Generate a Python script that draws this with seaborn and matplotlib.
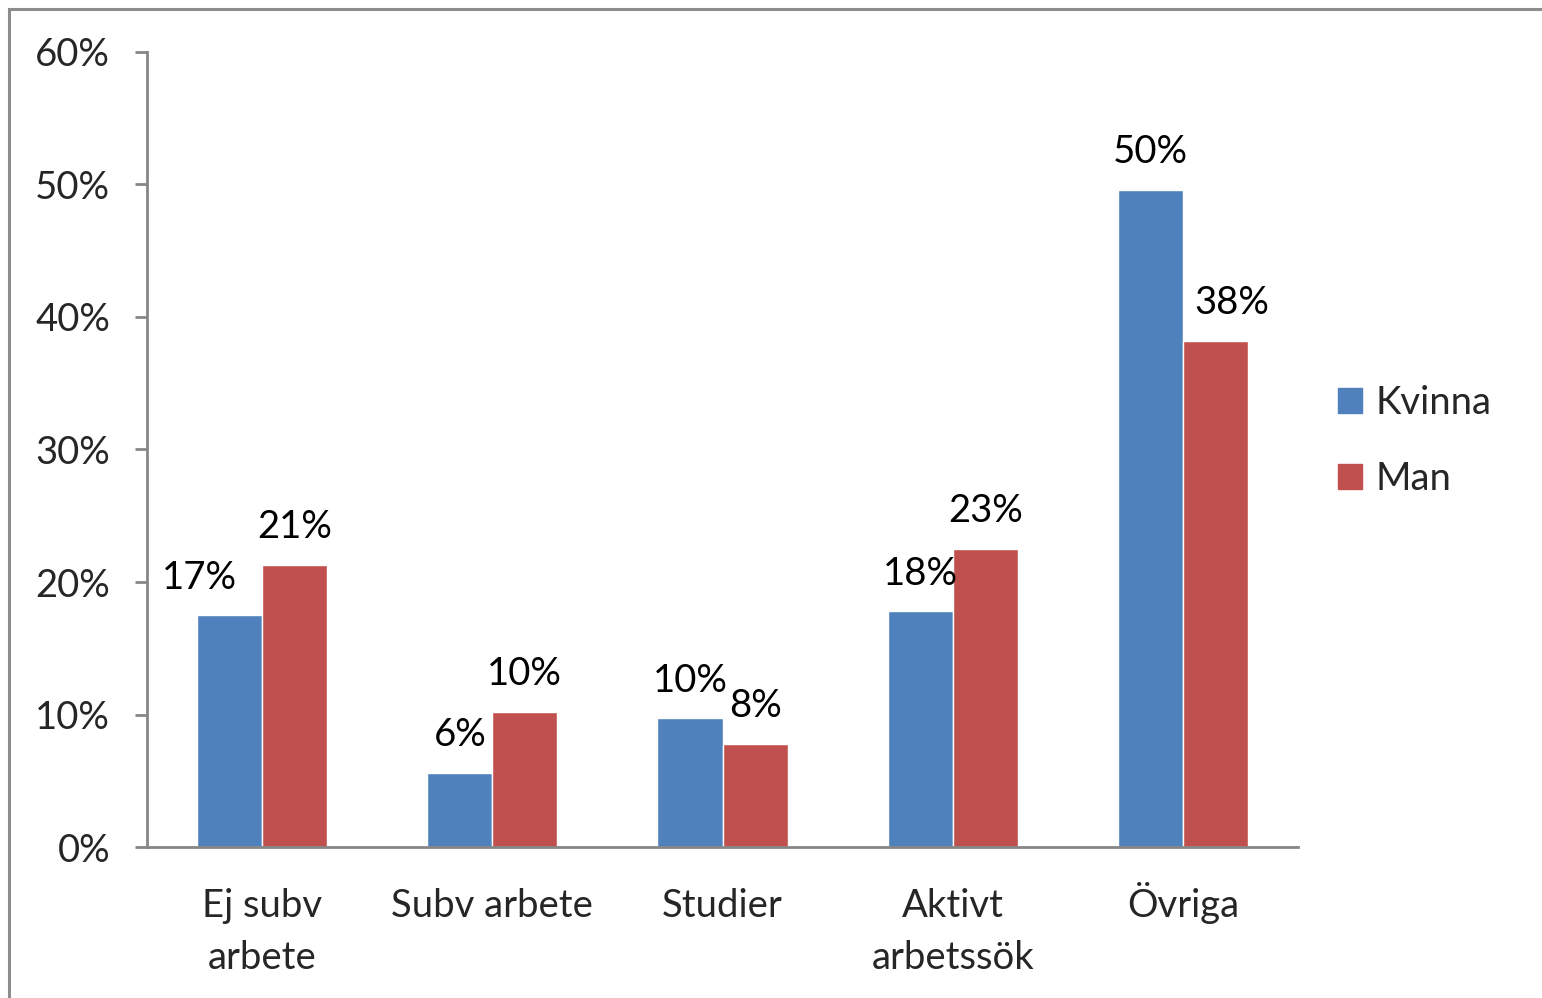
import matplotlib
matplotlib.use("Agg")
import matplotlib.pyplot as plt
import matplotlib.transforms as mtransforms
from matplotlib.patches import Rectangle
from matplotlib.ticker import PercentFormatter, FixedLocator
import pandas as pd
import seaborn as sns

# --- data ---
categories = ["Ej subv\narbete", "Subv arbete", "Studier", "Aktivt\narbetssök", "Övriga"]
kvinna = [0.175, 0.056, 0.097, 0.178, 0.496]
man = [0.213, 0.102, 0.078, 0.225, 0.382]
kvinna_labels = ["17%", "6%", "10%", "18%", "50%"]
man_labels = ["21%", "10%", "8%", "23%", "38%"]
series = ["Kvinna", "Man"]
colors = {"Kvinna": "#4F81BD", "Man": "#C0504D"}

df = pd.DataFrame({
    "kategori": categories * 2,
    "andel": kvinna + man,
    "kon": ["Kvinna"] * len(categories) + ["Man"] * len(categories),
})

sns.set_style("white")
plt.rcParams["font.family"] = ["Lato", "DejaVu Sans"]
grey = "#868686"
fs = 27.5

fig = plt.figure(figsize=(15.42, 9.98), dpi=100)
ax = fig.add_axes([0.0953, 0.1513, 0.7465, 0.7966])

sns.barplot(data=df, x="kategori", y="andel", hue="kon", order=categories,
            hue_order=series, palette=colors, width=0.565, gap=0,
            saturation=1, ax=ax, legend=True)

# value labels on the bars (a couple were nudged sideways in the original)
nudge = {(0, 0): -22, (1, 4): 12}
for si, (cont, labs) in enumerate(zip(ax.containers, [kvinna_labels, man_labels])):
    anns = ax.bar_label(cont, labels=labs, padding=14, fontsize=fs, color="black")
    for ci, ann in enumerate(anns):
        dx = nudge.get((si, ci), 0)
        if dx:
            ann.xyann = (ann.xyann[0] + dx, ann.xyann[1])

ax.set_ylim(0, 0.6)
ax.set_xlim(-0.5, len(categories) - 0.5)
ax.yaxis.set_major_formatter(PercentFormatter(1.0, decimals=0))
ax.set_yticks([0, 0.1, 0.2, 0.3, 0.4, 0.5, 0.6])
ax.set_xlabel("")
ax.set_ylabel("")

# category separators as ticks; category names drawn as text so that the
# first line of every name sits on the same baseline
ax.xaxis.set_minor_locator(FixedLocator([i - 0.5 for i in range(len(categories) + 1)]))
ax.tick_params(axis="x", which="major", length=0, labelbottom=False)
ax.tick_params(axis="x", which="minor", length=8.6, width=2, color=grey, direction="out")
ax.tick_params(axis="y", length=8.6, width=2, color=grey, direction="out",
               pad=18, labelsize=fs, left=True)

first_base = 50.4   # pt below the axis line
line_step = 37.4    # pt between lines
base = mtransforms.blended_transform_factory(ax.transData, ax.transAxes)
for i, name in enumerate(categories):
    n_extra = name.count("\n")
    off = mtransforms.ScaledTranslation(0, -(first_base + n_extra * line_step) / 72,
                                        fig.dpi_scale_trans)
    ax.text(i, 0, name, transform=base + off, ha="center", va="baseline",
            multialignment="center", fontsize=fs, linespacing=1.55)

for s in ["top", "right"]:
    ax.spines[s].set_visible(False)
for s in ["left", "bottom"]:
    ax.spines[s].set_color(grey)
    ax.spines[s].set_linewidth(2)

ax.get_legend().remove()
handles = [Rectangle((0, 0), 1, 1, color=colors[s]) for s in series]
fig.legend(handles, series, loc="center left", bbox_to_anchor=(0.8575, 0.558),
           frameon=False, fontsize=fs, handlelength=0.65, handleheight=0.65,
           handletextpad=0.35, labelspacing=1.05, borderaxespad=0)

# outer chart frame (only top and left edges show in the picture)
fig.patches.append(Rectangle((9 / 1542, -0.2), 1.2, 1.2 - 9 / 998,
                             transform=fig.transFigure, fill=False,
                             edgecolor="#8c8c8c", linewidth=2.2))

fig.savefig("out.png", dpi=100)
